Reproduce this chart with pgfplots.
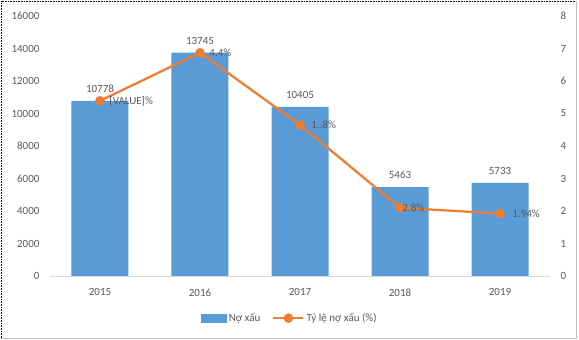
\documentclass[border=0pt]{standalone}
\usepackage{pgfplots}
\pgfplotsset{compat=1.18}
\usepackage{fontspec}
\setmainfont{Carlito}
\definecolor{barblue}{HTML}{5B9BD5}
\definecolor{lineorange}{HTML}{ED7D31}
\definecolor{txt}{HTML}{595959}
\definecolor{axgray}{HTML}{D9D9D9}
\begin{document}
\begin{tikzpicture}[font=\fontsize{11}{13}\selectfont]
\useasboundingbox (-50pt,-64pt) rectangle (529pt,276pt);
\draw[black, densely dotted, line width=0.6pt] (-49pt,-62pt) -- (-49pt,275pt) -- (527pt,275pt);
\draw[gray!50, line width=0.8pt] (-49pt,-62pt) -- (526.5pt,-62pt) -- (526.5pt,275pt);
\begin{axis}[
  at={(0pt,0pt)}, anchor=south west, scale only axis,
  width=500pt, height=260pt,
  xmin=-0.5, xmax=4.5, ymin=0, ymax=16000,
  xtick={0,1,2,3,4}, xticklabels={2015,2016,2017,2018,2019},
  ytick={0,2000,...,16000},
  scaled y ticks=false,
  axis line style={draw=none}, tick style={draw=none},
  xticklabel pos=bottom, yticklabel pos=left,
  yticklabel style={/pgf/number format/1000 sep={}, /pgf/number format/assume math mode=true, text=txt, font=\fontsize{11}{13}\selectfont, xshift=-7pt},
  xticklabel style={text=txt, font=\fontsize{11}{13}\selectfont, yshift=-5pt},
  clip=false,
  ybar, bar width=57pt,
  nodes near coords,
  nodes near coords style={text=txt, font=\fontsize{11}{13}\selectfont, anchor=south, yshift=5pt, /pgf/number format/1000 sep={}, /pgf/number format/assume math mode=true},
]
\draw[axgray, line width=0.8pt] (rel axis cs:0,0) -- (rel axis cs:1,0);
\addplot[fill=barblue, draw=none] coordinates {(0,10778) (1,13745) (2,10405) (3,5463) (4,5733)};
\end{axis}
\begin{axis}[
  at={(0pt,0pt)}, anchor=south west, scale only axis,
  width=500pt, height=260pt,
  xmin=-0.5, xmax=4.5, ymin=0, ymax=8,
  xtick=\empty, ytick={0,1,...,8},
  axis line style={draw=none}, tick style={draw=none},
  yticklabel pos=right,
  yticklabel style={/pgf/number format/assume math mode=true, text=txt, font=\fontsize{11}{13}\selectfont, xshift=7pt},
  clip=false,
  legend style={at={(0.48,-0.162)}, anchor=center, draw=none, fill=none, legend columns=2,
    font=\fontsize{11}{13}\selectfont, text=txt,
    /tikz/every even column/.append style={column sep=10pt}},
  legend cell align=left,
]
\addlegendimage{legend image code/.code={\fill[barblue] (0pt,-3.6pt) rectangle (25pt,3.6pt);}}
\addlegendentry{Nợ xấu}
\addplot[lineorange, line width=2.25pt, mark=*, mark size=3.6pt,
  mark options={fill=lineorange, draw=lineorange},
  legend image code/.code={\draw[lineorange, line width=2.25pt] (0pt,0pt) -- (30pt,0pt); \fill[lineorange] (15pt,0pt) circle (3.6pt);},
  visualization depends on={\thisrow{dx} \as \labdx},
  nodes near coords, point meta=explicit symbolic,
  nodes near coords style={anchor=west, xshift=\labdx pt, text=txt, font=\fontsize{11}{13}\selectfont},
] table[x=x, y=y, meta=lab] {
x y lab dx
0 5.39 {[VALUE]\%} 5
1 6.87 {4.4\%} 5
2 4.65 {1..8\%} 7
3 2.10 {2.8\%} -2
4 1.92 {1.94\%} 8
};
\addlegendentry{Tỷ lệ nợ xấu (\%)}
\end{axis}
\end{tikzpicture}
\end{document}
